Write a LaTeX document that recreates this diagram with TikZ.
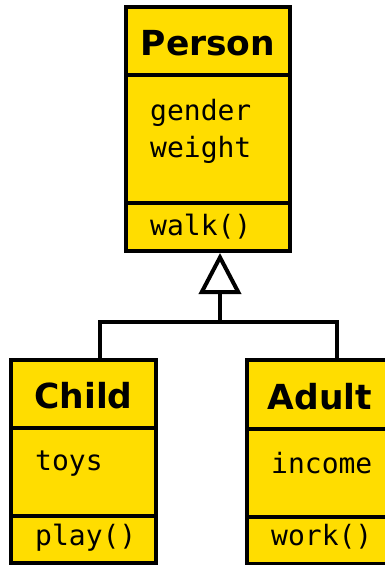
\documentclass[tikz,border=0pt]{standalone}
\usepackage{fontspec}
\setmainfont{DejaVu Sans}
\newfontfamily\umlmono{DejaVu Sans Mono}
\usetikzlibrary{arrows.meta}
\definecolor{umlyellow}{RGB}{255,221,0}
\tikzset{
  umlbox/.style={draw=black, fill=umlyellow, line width=4pt, rectangle, inner sep=0pt},
  divider/.style={draw=black, line width=4pt},
  title/.style={anchor=base, inner sep=0pt, font=\fontsize{34.5}{40}\selectfont\bfseries},
  member/.style={anchor=base west, inner sep=0pt, font=\umlmono\fontsize{28}{34}\selectfont},
  link/.style={draw=black, line width=3.5pt, line join=miter},
}
\begin{document}
\begin{tikzpicture}[x=1pt, y=-1pt]
\useasboundingbox (0,0) rectangle (385,565);
\clip (0,0) rectangle (385,565);
% Person
\node[umlbox, minimum width=164pt, minimum height=244pt] (p) at (208,129) {};
\draw[divider] (126,75) -- (290,75);
\draw[divider] (126,203) -- (290,203);
\node[title] (pt) at (208,55) {Person};
\node[member] (pa1) at (150,120) {gender};
\node[member] (pa2) at (150,157) {weight};
\node[member] (pm1) at (150,235) {walk()};
% Child
\node[umlbox, minimum width=145pt, minimum height=203.5pt] (c) at (83.5,461.25) {};
\draw[divider] (11,428) -- (156,428);
\draw[divider] (11,516) -- (156,516);
\node[title] (ct) at (83.5,408) {Child};
\node[member] (ca1) at (35,470) {toys};
\node[member] (cm1) at (35,545) {play()};
% Adult
\node[umlbox, minimum width=146pt, minimum height=204pt] (a) at (320,462) {};
\draw[divider] (247,429) -- (393,429);
\draw[divider] (247,517) -- (393,517);
\node[title] (at) at (320,409) {Adult};
\node[member] (aa1) at (271,473) {income};
\node[member] (am1) at (271,545) {work()};
% connectors
\coordinate (j) at (220,322);
\coordinate (cj) at (100,358);
\coordinate (aj) at (337,360);
\draw[link] (cj) |- (j) -| (aj);
\draw[link, -{Triangle[open, length=41pt, width=42pt, line width=4pt]}] (j) -- (p.south -| j);
\end{tikzpicture}
\end{document}
